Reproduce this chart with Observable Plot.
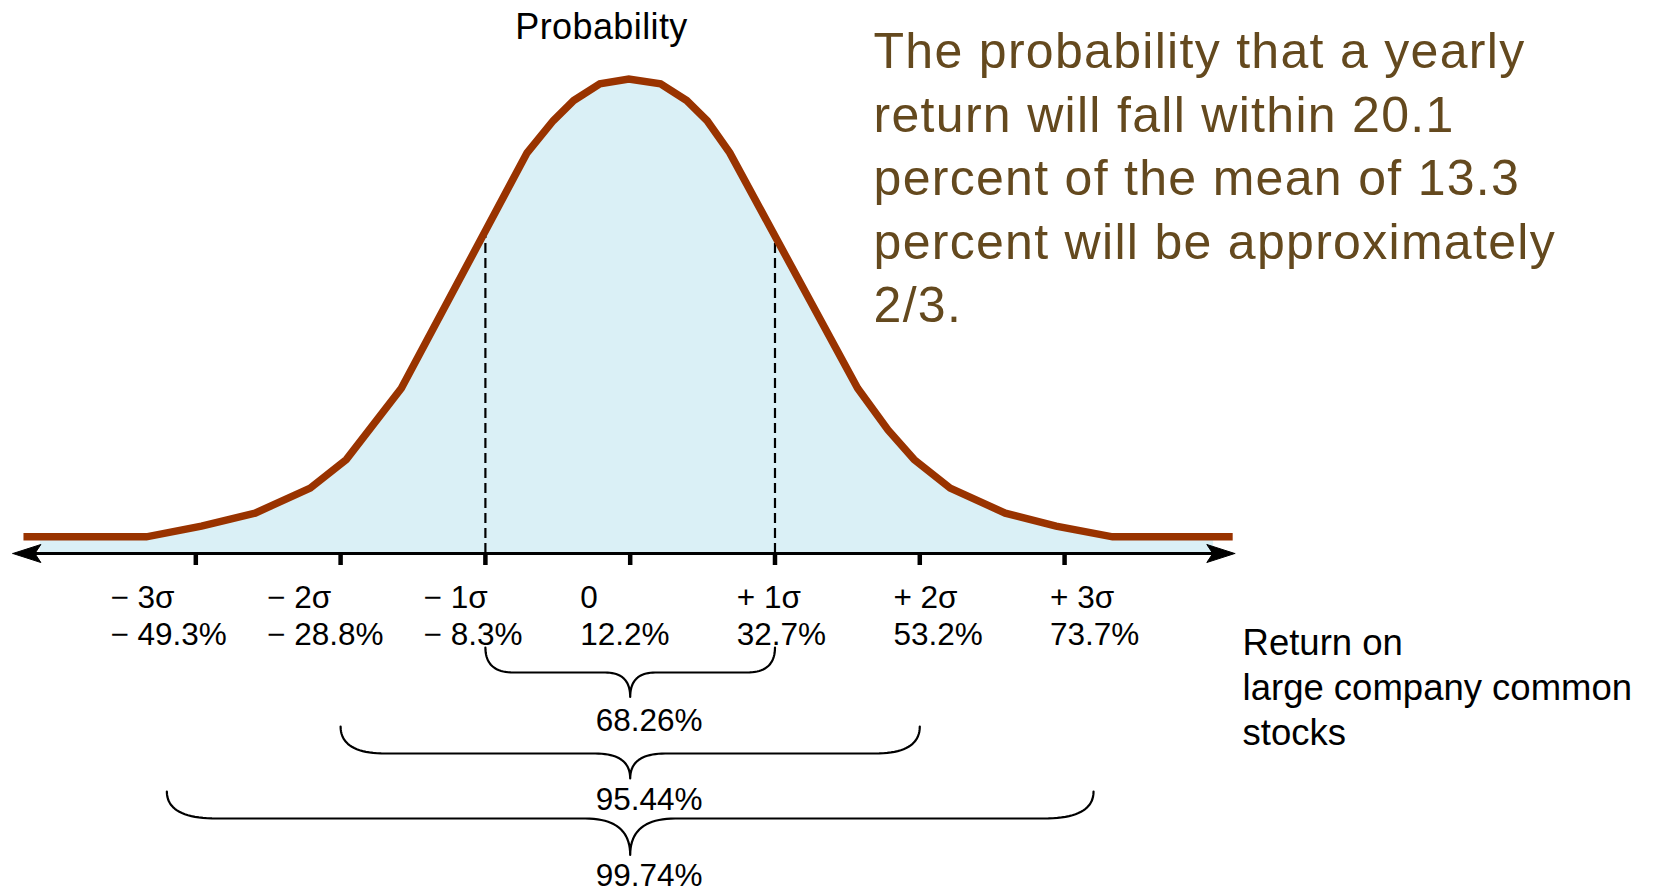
<!DOCTYPE html>
<html><head><meta charset="utf-8">
<script src="https://cdn.jsdelivr.net/npm/d3@7"></script>
<script src="https://cdn.jsdelivr.net/npm/@observablehq/plot@0.6"></script>
<style>html,body{margin:0;padding:0;background:#fff;}#chart{width:1654px;height:890px;overflow:hidden}</style>
</head><body><div id="chart"></div>
<script>
// ---------------- data ----------------
const meanReturn = 12.2;   // percent
const sdReturn = 20.5;     // percent
const sigmaSteps = [-3, -2, -1, 0, 1, 2, 3];
const sigmaLabels = ["− 3σ", "− 2σ", "− 1σ", "0", "+ 1σ", "+ 2σ", "+ 3σ"];
const returnLabels = ["− 49.3%", "− 28.8%", "− 8.3%", "12.2%", "32.7%", "53.2%", "73.7%"];
// polyline of the drawn bell curve: return (%) and probability density
const curveReturn = [-73.7, -56.3, -48.5, -40.9, -33.1, -28.0, -20.2, -2.4, 1.3, 4.2, 7.9, 12.0, 16.5, 20.2, 23.1, 26.3, 44.4, 48.7, 52.4, 57.5, 65.3, 72.5, 80.5, 97.5];
const curveProb   = [0.014, 0.014, 0.023, 0.034, 0.055, 0.079, 0.139, 0.337, 0.364, 0.381, 0.395, 0.399, 0.395, 0.381, 0.364, 0.337, 0.139, 0.104, 0.079, 0.055, 0.034, 0.023, 0.014, 0.014];
const coverageLabels = ["68.26%", "95.44%", "99.74%"];
const coverageSigma = [1, 2, 3];
const yAxisTitle = "Probability";
const xAxisTitle = "Return on\nlarge company common\nstocks";
const noteText = "The probability that a yearly\nreturn will fall within 20.1\npercent of the mean of 13.3\npercent will be approximately\n2/3.";

// ---------------- layout ----------------
const W = 1654, H = 890;
const X_DOMAIN = [-70, 150], X_RANGE = [49.1, 1603.0];
const Y_DOMAIN = [-0.28, 0.46], Y_RANGE = [885.9, 6.1];
const pxPerX = (X_RANGE[1] - X_RANGE[0]) / (X_DOMAIN[1] - X_DOMAIN[0]);
const pxPerY = (Y_RANGE[0] - Y_RANGE[1]) / (Y_DOMAIN[1] - Y_DOMAIN[0]);
const dX = px => px / pxPerX;
const dY = px => px / pxPerY;
const below = px => -dY(px); // position px below the axis line

const AXIS_EXTENT = [-75.2, 97.8];
const FILL_EXTENT = [-71.3, 94.8];
const LABEL_SPREAD = 1.0815, LABEL_DX = -50;
const BRACE_SPAN = [1, 2, 3.2];           // drawn half-width in sigma
const BRACE_TOP = [94, 173, 238], BRACE_MID = [119, 200, 265], BRACE_TIP = [143.5, 225, 301.5];
const BRACE_ARM = [28, 45, 50], BRACE_CUSP = [25, 35, 45];
const BRACE_LABEL_TOP = [155.6, 234.6, 310.5];

const FONT = "'Liberation Sans', Arial, Helvetica, sans-serif";
const CURVE_COLOR = "#993300", FILL_COLOR = "#daf0f6", NOTE_COLOR = "#64491e";

// ---------------- derived ----------------
const curve = curveReturn.map((r, i) => ({r, p: curveProb[i]}));
const fillPts = curve.map(d => ({r: Math.max(FILL_EXTENT[0], Math.min(FILL_EXTENT[1], d.r)), p: d.p}));
function probAt(r) {
  for (let i = 1; i < curve.length; i++) {
    const a = curve[i - 1], b = curve[i];
    if (r >= a.r && r <= b.r) return a.p + (b.p - a.p) * (r - a.r) / (b.r - a.r);
  }
  return 0;
}
const oneSigma = [-1, 1].map(k => ({r: meanReturn + k * sdReturn, p: probAt(meanReturn + k * sdReturn)}));

function arrowHead(tip, dir) {
  const L = dX(28), N = dX(6), h = dY(9);
  return [[tip, 0], [tip - dir * L, h], [tip - dir * (L - N), 0], [tip - dir * L, -h], [tip, 0]]
    .map(([x, y]) => ({x, y, side: dir}));
}
const arrows = [...arrowHead(AXIS_EXTENT[0], -1), ...arrowHead(AXIS_EXTENT[1], 1)];

function bracePoints(i) {
  const half = BRACE_SPAN[i] * sdReturn;
  const xc = meanReturn, xl = xc - half, xr = xc + half;
  const top = below(BRACE_TOP[i]), mid = below(BRACE_MID[i]), tip = below(BRACE_TIP[i]);
  const a = dX(BRACE_ARM[i]), c = dX(BRACE_CUSP[i]);
  const pts = [];
  const quad = (p0, p1, p2) => {
    for (let s = 0; s <= 20; s++) {
      const t = s / 20;
      pts.push({
        x: (1 - t) ** 2 * p0[0] + 2 * (1 - t) * t * p1[0] + t * t * p2[0],
        y: (1 - t) ** 2 * p0[1] + 2 * (1 - t) * t * p1[1] + t * t * p2[1],
        brace: i
      });
    }
  };
  quad([xl, top], [xl, mid], [xl + a, mid]);
  quad([xc - c, mid], [xc, mid], [xc, tip]);
  quad([xc, tip], [xc, mid], [xc + c, mid]);
  quad([xr - a, mid], [xr, mid], [xr, top]);
  return pts;
}
const braces = coverageSigma.flatMap((s, i) => bracePoints(i));

// ---------------- chart ----------------
const chart = Plot.plot({
  width: W, height: H, margin: 0,
  style: {fontFamily: FONT, background: "white", overflow: "visible"},
  x: {domain: X_DOMAIN, range: X_RANGE, axis: null},
  y: {domain: Y_DOMAIN, range: Y_RANGE, axis: null},
  marks: [
    Plot.areaY(fillPts, {x: "r", y: "p", fill: FILL_COLOR, curve: "linear"}),
    Plot.ruleX(oneSigma, {x: "r", y1: 0, y2: "p", stroke: "black", strokeWidth: 2.2, strokeDasharray: "10,5"}),
    Plot.line(curve, {x: "r", y: "p", stroke: CURVE_COLOR, strokeWidth: 7.5, strokeLinecap: "butt", strokeLinejoin: "miter", strokeMiterlimit: 10}),
    Plot.ruleY([0], {x1: AXIS_EXTENT[0] + dX(8), x2: AXIS_EXTENT[1] - dX(8), stroke: "black", strokeWidth: 3}),
    Plot.line(arrows, {x: "x", y: "y", z: "side", fill: "black", stroke: "black", strokeWidth: 1, strokeLinejoin: "miter", strokeMiterlimit: 10}),
    Plot.ruleX(sigmaSteps, {x: k => meanReturn + k * sdReturn, y1: 0, y2: below(12), stroke: "black", strokeWidth: 4.5}),
    Plot.text(sigmaSteps, {
      x: k => meanReturn + k * sdReturn * LABEL_SPREAD, y: below(27.5), dx: LABEL_DX,
      text: (k, i) => sigmaLabels[i] + "\n" + returnLabels[i],
      textAnchor: "start", lineAnchor: "top", lineHeight: 1.19, fontSize: 31.5, fill: "black"
    }),
    Plot.line(braces, {x: "x", y: "y", z: "brace", stroke: "black", strokeWidth: 2.2, curve: "linear"}),
    Plot.text(coverageLabels, {
      x: () => meanReturn, y: (d, i) => below(BRACE_LABEL_TOP[i]), dx: 19,
      text: d => d, textAnchor: "middle", lineAnchor: "top", fontSize: 31.5, fill: "black"
    }),
    Plot.text([yAxisTitle], {x: () => 8.14, y: () => 0.4543, text: d => d, textAnchor: "middle", lineAnchor: "top", fontSize: 36, fill: "black", ariaDescription: "ytitle"}),
    Plot.text([xAxisTitle], {x: () => 98.9, y: () => -0.0589, text: d => d, textAnchor: "start", lineAnchor: "top", lineHeight: 1.233, fontSize: 36.5, fill: "black"}),
    Plot.text([noteText], {x: () => 46.65, y: () => 0.4464, text: d => d, textAnchor: "start", lineAnchor: "top", lineHeight: 1.272, fontSize: 50, fill: NOTE_COLOR, ariaDescription: "note"})
  ]
});
document.getElementById("chart").appendChild(chart);
chart.querySelectorAll('g[aria-description="note"] text').forEach(t => t.style.letterSpacing = "1.3px");
chart.querySelectorAll('g[aria-description="ytitle"] text').forEach(t => t.style.letterSpacing = "0.4px");
</script>
</body></html>
